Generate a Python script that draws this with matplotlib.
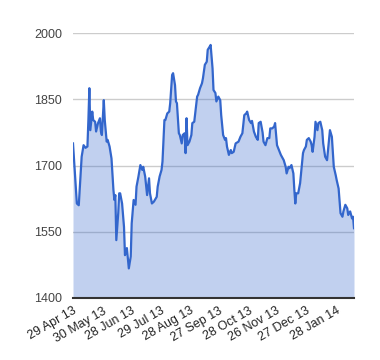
import matplotlib
matplotlib.use("Agg")
import matplotlib.pyplot as plt
import pandas as pd

# Days since the first session (29 Apr 2013) and the closing value
start = pd.Timestamp("2013-04-29")
days = [0, 4, 6, 9, 11, 13, 15, 16, 17, 18, 20, 21, 23, 24, 26, 28, 29, 30, 32, 33,
        35, 36, 38, 40, 42, 43, 44, 45, 47, 48, 49, 51, 53, 54, 56, 57, 58, 60, 61, 63,
        65, 66, 68, 70, 72, 73, 75, 77, 79, 80, 82, 84, 87, 88, 90, 92, 93, 95, 96, 98,
        100, 101, 103, 104, 106, 107, 108, 110, 111, 113, 114, 116, 117, 118, 119, 121, 123, 124, 126, 129,
        130, 132, 134, 135, 137, 139, 140, 142, 143, 145, 146, 148, 149, 151, 153, 154, 156, 158, 159, 160,
        162, 164, 165, 167, 169, 172, 174, 176, 178, 180, 181, 183, 185, 186, 188, 190, 192, 193, 195, 197,
        198, 200, 202, 204, 205, 207, 209, 210, 212, 214, 216, 217, 219, 221, 222, 224, 225, 227, 229, 230,
        231, 232, 234, 236, 237, 239, 240, 242, 243, 245, 247, 248, 249, 251, 252, 254, 255, 257, 259, 260,
        262, 264, 266, 267, 269, 271, 273, 274, 276, 278, 280, 281, 283, 285, 286, 288, 290, 291, 292]
values = [1750, 1614, 1610, 1720, 1746, 1740, 1743, 1803, 1875, 1780, 1822, 1803, 1799, 1777, 1796, 1807, 1777, 1769, 1848, 1803,
          1754, 1758, 1743, 1716, 1645, 1622, 1633, 1531, 1592, 1637, 1637, 1614, 1561, 1497, 1513, 1490, 1467, 1494, 1569, 1622,
          1611, 1652, 1675, 1701, 1690, 1697, 1675, 1633, 1671, 1637, 1614, 1618, 1629, 1652, 1675, 1690, 1709, 1803, 1803, 1818,
          1822, 1841, 1905, 1909, 1882, 1845, 1841, 1773, 1769, 1750, 1769, 1773, 1728, 1807, 1746, 1754, 1769, 1796, 1799, 1856,
          1860, 1875, 1886, 1897, 1928, 1935, 1962, 1969, 1973, 1920, 1871, 1864, 1845, 1856, 1848, 1814, 1769, 1758, 1762, 1743,
          1724, 1735, 1728, 1731, 1750, 1754, 1765, 1773, 1814, 1818, 1822, 1803, 1796, 1801, 1777, 1765, 1758, 1796, 1799, 1775,
          1754, 1746, 1762, 1762, 1784, 1784, 1788, 1796, 1746, 1735, 1724, 1720, 1712, 1697, 1682, 1697, 1694, 1701, 1682, 1645,
          1614, 1637, 1637, 1660, 1682, 1728, 1735, 1743, 1758, 1762, 1754, 1746, 1731, 1765, 1799, 1780, 1796, 1799, 1780, 1750,
          1720, 1712, 1758, 1780, 1765, 1697, 1678, 1667, 1648, 1592, 1584, 1596, 1611, 1603, 1588, 1596, 1580, 1584, 1558]

tick_dates = ["2013-04-29", "2013-05-30", "2013-06-28", "2013-07-29", "2013-08-28",
              "2013-09-27", "2013-10-28", "2013-11-26", "2013-12-27", "2014-01-28"]
y_ticks = [1400, 1550, 1700, 1850, 2000]

dates = start + pd.to_timedelta(days, unit="D")

plt.rcParams['font.family'] = ['Liberation Sans', 'DejaVu Sans']

fig = plt.figure(figsize=(3.8, 3.6), dpi=100)
ax = fig.add_axes([73 / 380, 1 - 298 / 360, 281 / 380, 265 / 360])

# Area + line
ax.fill_between(dates, values, 1400, color='#3366cc', alpha=0.3, linewidth=0, zorder=2)
ax.plot(dates, values, color='#3366cc', linewidth=1.6, zorder=3)

ax.set_ylim(1400, 2000)
ax.set_xlim(dates[0], dates[-1])
ax.set_yticks(y_ticks)
ax.set_yticklabels([str(v) for v in y_ticks], fontsize=9, color='#444444')

# Date labels
ticks = pd.to_datetime(tick_dates)
ax.set_xticks(ticks)
ax.set_xticklabels([t.strftime("%d %b %y") for t in ticks],
                   rotation=30, ha='right', rotation_mode='anchor', fontsize=9, color='#222222')

# Grid & axes
ax.grid(True, axis='y', color='#cccccc', linewidth=1, zorder=1)
ax.set_axisbelow(True)
for side in ['top', 'right', 'left']:
    ax.spines[side].set_visible(False)
ax.spines['bottom'].set_color('#333333')
ax.spines['bottom'].set_linewidth(1.5)
ax.spines['bottom'].set_zorder(4)
ax.tick_params(axis='both', length=0)
ax.tick_params(axis='y', pad=8)
ax.tick_params(axis='x', pad=5)

fig.savefig("out.png", dpi=100)
